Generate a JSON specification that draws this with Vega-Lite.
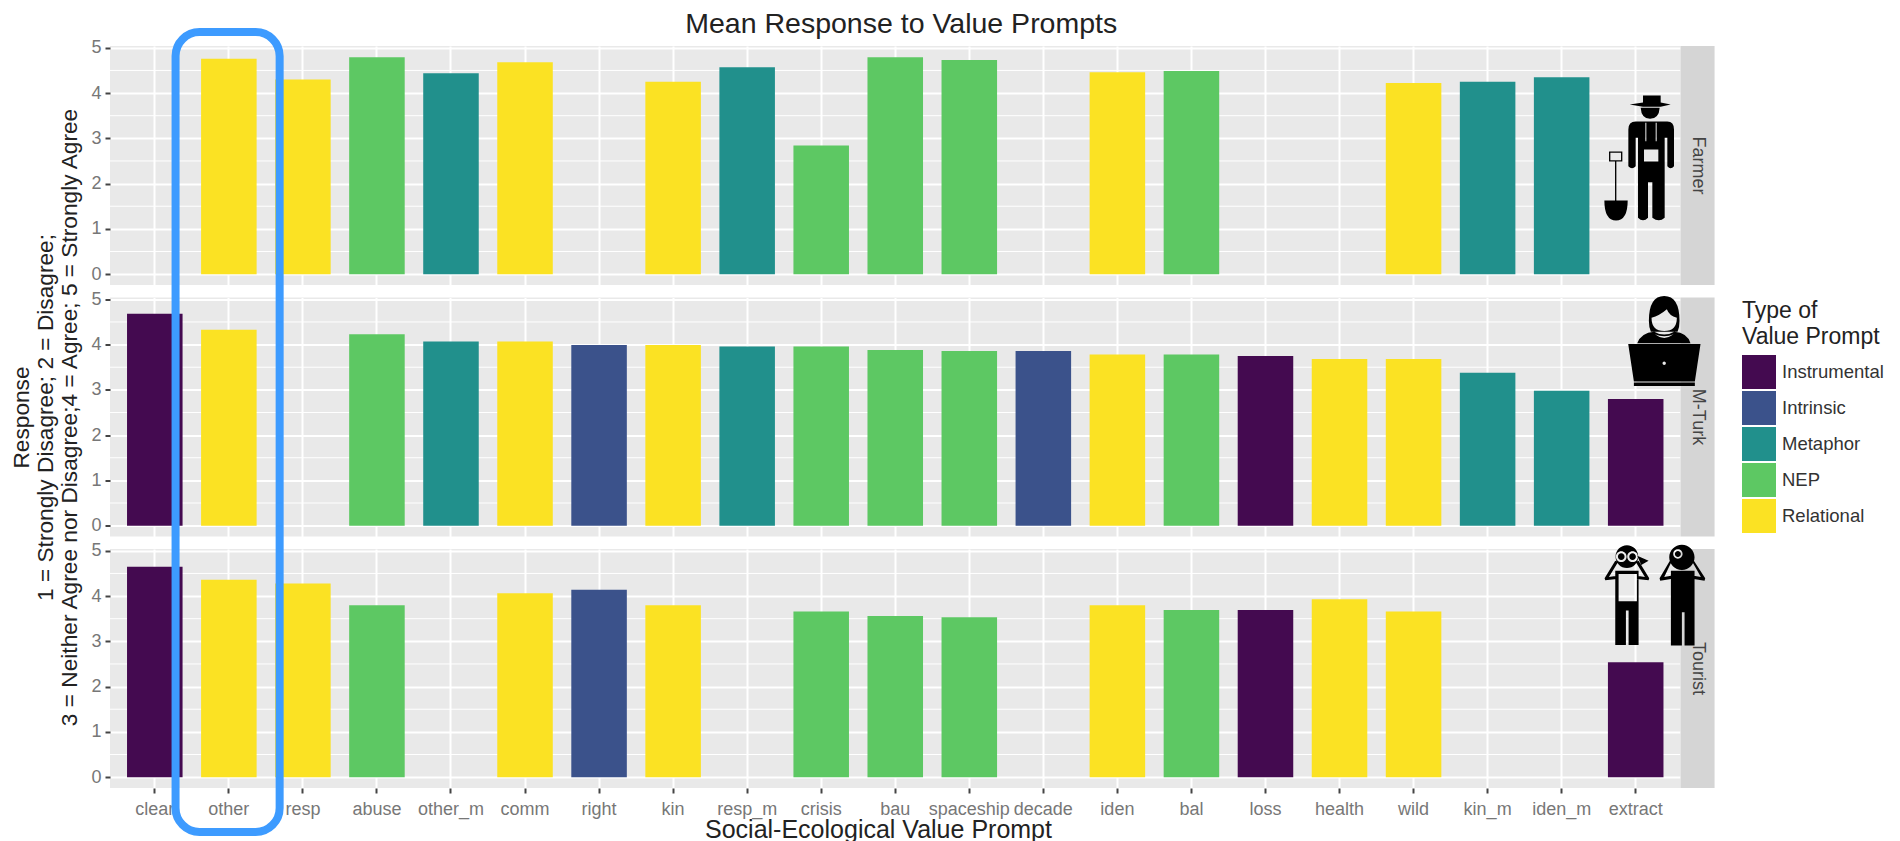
{
"$schema":"https://vega.github.io/schema/vega-lite/v6.json",
"padding":{"left":10,"top":10,"right":10,"bottom":4},
"bounds":"flush",
"spacing":12.5,
"background":"white",
"config":{"font":"Liberation Sans","axis":{"labelFont":"Liberation Sans","titleFont":"Liberation Sans","titleFontWeight":"normal"},"legend":{"labelFont":"Liberation Sans","titleFont":"Liberation Sans","titleFontWeight":"normal"}},
"datasets":{
"prompts":[
{"group":"Farmer","prompt":"other","mean":4.76,"type":"Relational"},
{"group":"Farmer","prompt":"resp","mean":4.3,"type":"Relational"},
{"group":"Farmer","prompt":"abuse","mean":4.79,"type":"NEP"},
{"group":"Farmer","prompt":"other_m","mean":4.44,"type":"Metaphor"},
{"group":"Farmer","prompt":"comm","mean":4.68,"type":"Relational"},
{"group":"Farmer","prompt":"kin","mean":4.25,"type":"Relational"},
{"group":"Farmer","prompt":"resp_m","mean":4.57,"type":"Metaphor"},
{"group":"Farmer","prompt":"crisis","mean":2.84,"type":"NEP"},
{"group":"Farmer","prompt":"bau","mean":4.79,"type":"NEP"},
{"group":"Farmer","prompt":"spaceship","mean":4.73,"type":"NEP"},
{"group":"Farmer","prompt":"iden","mean":4.46,"type":"Relational"},
{"group":"Farmer","prompt":"bal","mean":4.49,"type":"NEP"},
{"group":"Farmer","prompt":"wild","mean":4.22,"type":"Relational"},
{"group":"Farmer","prompt":"kin_m","mean":4.25,"type":"Metaphor"},
{"group":"Farmer","prompt":"iden_m","mean":4.35,"type":"Metaphor"},
{"group":"M-Turk","prompt":"clear","mean":4.68,"type":"Instrumental"},
{"group":"M-Turk","prompt":"other","mean":4.33,"type":"Relational"},
{"group":"M-Turk","prompt":"abuse","mean":4.23,"type":"NEP"},
{"group":"M-Turk","prompt":"other_m","mean":4.07,"type":"Metaphor"},
{"group":"M-Turk","prompt":"comm","mean":4.07,"type":"Relational"},
{"group":"M-Turk","prompt":"right","mean":3.99,"type":"Intrinsic"},
{"group":"M-Turk","prompt":"kin","mean":3.99,"type":"Relational"},
{"group":"M-Turk","prompt":"resp_m","mean":3.96,"type":"Metaphor"},
{"group":"M-Turk","prompt":"crisis","mean":3.96,"type":"NEP"},
{"group":"M-Turk","prompt":"bau","mean":3.88,"type":"NEP"},
{"group":"M-Turk","prompt":"spaceship","mean":3.86,"type":"NEP"},
{"group":"M-Turk","prompt":"decade","mean":3.86,"type":"Intrinsic"},
{"group":"M-Turk","prompt":"iden","mean":3.78,"type":"Relational"},
{"group":"M-Turk","prompt":"bal","mean":3.78,"type":"NEP"},
{"group":"M-Turk","prompt":"loss","mean":3.75,"type":"Instrumental"},
{"group":"M-Turk","prompt":"health","mean":3.68,"type":"Relational"},
{"group":"M-Turk","prompt":"wild","mean":3.68,"type":"Relational"},
{"group":"M-Turk","prompt":"kin_m","mean":3.38,"type":"Metaphor"},
{"group":"M-Turk","prompt":"iden_m","mean":2.98,"type":"Metaphor"},
{"group":"M-Turk","prompt":"extract","mean":2.8,"type":"Instrumental"},
{"group":"Tourist","prompt":"clear","mean":4.65,"type":"Instrumental"},
{"group":"Tourist","prompt":"other","mean":4.36,"type":"Relational"},
{"group":"Tourist","prompt":"resp","mean":4.28,"type":"Relational"},
{"group":"Tourist","prompt":"abuse","mean":3.8,"type":"NEP"},
{"group":"Tourist","prompt":"comm","mean":4.06,"type":"Relational"},
{"group":"Tourist","prompt":"right","mean":4.14,"type":"Intrinsic"},
{"group":"Tourist","prompt":"kin","mean":3.8,"type":"Relational"},
{"group":"Tourist","prompt":"crisis","mean":3.66,"type":"NEP"},
{"group":"Tourist","prompt":"bau","mean":3.56,"type":"NEP"},
{"group":"Tourist","prompt":"spaceship","mean":3.53,"type":"NEP"},
{"group":"Tourist","prompt":"iden","mean":3.8,"type":"Relational"},
{"group":"Tourist","prompt":"bal","mean":3.69,"type":"NEP"},
{"group":"Tourist","prompt":"loss","mean":3.69,"type":"Instrumental"},
{"group":"Tourist","prompt":"health","mean":3.93,"type":"Relational"},
{"group":"Tourist","prompt":"wild","mean":3.66,"type":"Relational"},
{"group":"Tourist","prompt":"extract","mean":2.54,"type":"Instrumental"}
],
"minorGrid":[{"v":0.5},{"v":1.5},{"v":2.5},{"v":3.5},{"v":4.5}]
},
"vconcat":[
{"width":1570.5,"height":239,"view":{"fill":"#E9E9E9","stroke":null},
"title":{"text":"Mean Response to Value Prompts","fontSize":28.5,"fontWeight":"normal","color":"#222222","anchor":"middle","dx":6,"offset":0},
"resolve":{"scale":{"x":"independent"},"axis":{"x":"independent"}},
"layer":[
{"data":{"name":"minorGrid"},"mark":{"type":"rule","color":"white","strokeWidth":1},"encoding":{"y":{"field":"v","type":"quantitative","scale":{"domain":[-0.24,5.04],"nice":false,"zero":false},"axis":{"title":null,"values":[0,1,2,3,4,5],"domain":false,"grid":true,"gridColor":"white","gridWidth":2,"tickColor":"#444444","tickSize":5,"tickWidth":2,"labelFontSize":18,"labelColor":"#777777","labelPadding":4}}}},
{"data":{"name":"prompts"},"transform":[{"filter":"datum.group === 'Farmer'"}],"mark":{"type":"bar"},
"encoding":{
"x":{"field":"prompt","type":"nominal","sort":null,"scale":{"domain":["clear","other","resp","abuse","other_m","comm","right","kin","resp_m","crisis","bau","spaceship","decade","iden","bal","loss","health","wild","kin_m","iden_m","extract"],"paddingInner":0.25,"paddingOuter":0.23},"axis":{"title":null,"labels":false,"ticks":false,"domain":false,"grid":true,"gridColor":"white","gridWidth":2}},
"y":{"field":"mean","type":"quantitative","scale":{"domain":[-0.24,5.04],"nice":false,"zero":false},"axis":{"title":null,"values":[0,1,2,3,4,5],"domain":false,"grid":true,"gridColor":"white","gridWidth":2,"tickColor":"#444444","tickSize":5,"tickWidth":2,"labelFontSize":18,"labelColor":"#777777","labelPadding":4}},
"color":{"field":"type","type":"nominal","scale":{"domain":["Instrumental","Intrinsic","Metaphor","NEP","Relational"],"range":["#440A50","#3B528B","#21908C","#5DC863","#FBE223"]},"legend":{"orient":"none","legendX":1632,"legendY":254,"title":["Type of","Value Prompt"],"titleFontSize":23,"titleColor":"#222222","titleLineHeight":26,"titlePadding":6,"symbolType":"square","symbolSize":1156,"symbolStrokeWidth":0,"symbolOpacity":1,"labelFontSize":18.5,"labelColor":"#333333","labelOffset":6,"rowPadding":2}}
}},
{"data":{"values":[{"left":20.6,"right":21.06,"lo":-0.24,"hi":5.04}]},"mark":{"type":"rect","color":"#D5D5D5","clip":false},"encoding":{"x":{"field":"left","type":"quantitative","axis":null,"scale":{"domain":[-0.6,20.6],"nice":false,"zero":false}},"x2":{"field":"right"},"y":{"field":"lo","type":"quantitative"},"y2":{"field":"hi"}}},
{"data":{"values":[{"pos":20.83,"mid":2.4,"group":"Farmer"}]},"mark":{"type":"text","angle":90,"fontSize":18,"color":"#444444","align":"center","baseline":"middle"},"encoding":{"x":{"field":"pos","type":"quantitative","axis":null,"scale":{"domain":[-0.6,20.6],"nice":false,"zero":false}},"y":{"field":"mid","type":"quantitative"},"text":{"field":"group"}}},
{"data":{"values":[{"pos":20.04,"val":2.57}]},"mark":{"type":"point","filled":true,"color":"black","opacity":1,"size":0.444,"shape":"M-28,-160 L12,-166 L12,-187 L65,-187 L65,-166 L95,-160 L65,-153 L12,-153 Z M5,-150 L62,-150 Q60,-117 33,-117 Q7,-117 5,-150 Z M-10,-109 L85,-109 Q105,-109 105,-85 L105,25 Q95,38 85,25 L85,-60 L77,-60 L77,180 Q60,195 40,180 L40,73 L27,73 L27,180 Q12,195 -3,180 L-3,-60 L-10,-60 L-10,25 Q-21,38 -32,25 L-32,-85 Q-32,-109 -10,-109 Z M15,-25 L15,11 L58,11 L58,-25 Z M19,-105 L19,-50 L22,-50 L22,-105 Z M50,-105 L50,-50 L53,-50 L53,-105 Z M-90,-19 L-50,-19 L-50,11 L-90,11 Z M-86,-15 L-86,7 L-54,7 L-54,-15 Z M-72,11 L-68,11 L-68,130 L-72,130 Z M-104,128 L-34,128 Q-34,188 -69,188 Q-104,188 -104,128 Z"},"encoding":{"x":{"field":"pos","type":"quantitative","axis":null,"scale":{"domain":[-0.6,20.6],"nice":false,"zero":false}},"y":{"field":"val","type":"quantitative"}}}
]},
{"width":1570.5,"height":239,"view":{"fill":"#E9E9E9","stroke":null},
"resolve":{"scale":{"x":"independent"},"axis":{"x":"independent"}},
"layer":[
{"data":{"name":"minorGrid"},"mark":{"type":"rule","color":"white","strokeWidth":1},"encoding":{"y":{"field":"v","type":"quantitative","scale":{"domain":[-0.24,5.04],"nice":false,"zero":false},"axis":{"title":["Response","1 = Strongly Disagree; 2 = Disagree;","3 = Neither Agree nor Disagree;4 = Agree; 5 = Strongly Agree"],"titleFontSize":22.7,"titleLineHeight":24,"titleColor":"#222222","titlePadding":9,"values":[0,1,2,3,4,5],"domain":false,"grid":true,"gridColor":"white","gridWidth":2,"tickColor":"#444444","tickSize":5,"tickWidth":2,"labelFontSize":18,"labelColor":"#777777","labelPadding":4}}}},
{"data":{"name":"prompts"},"transform":[{"filter":"datum.group === 'M-Turk'"}],"mark":{"type":"bar"},
"encoding":{
"x":{"field":"prompt","type":"nominal","sort":null,"scale":{"domain":["clear","other","resp","abuse","other_m","comm","right","kin","resp_m","crisis","bau","spaceship","decade","iden","bal","loss","health","wild","kin_m","iden_m","extract"],"paddingInner":0.25,"paddingOuter":0.23},"axis":{"title":null,"labels":false,"ticks":false,"domain":false,"grid":true,"gridColor":"white","gridWidth":2}},
"y":{"field":"mean","type":"quantitative","scale":{"domain":[-0.24,5.04],"nice":false,"zero":false},"axis":{"title":["Response","1 = Strongly Disagree; 2 = Disagree;","3 = Neither Agree nor Disagree;4 = Agree; 5 = Strongly Agree"],"titleFontSize":22.7,"titleLineHeight":24,"titleColor":"#222222","titlePadding":9,"values":[0,1,2,3,4,5],"domain":false,"grid":true,"gridColor":"white","gridWidth":2,"tickColor":"#444444","tickSize":5,"tickWidth":2,"labelFontSize":18,"labelColor":"#777777","labelPadding":4}},
"color":{"field":"type","type":"nominal","scale":{"domain":["Instrumental","Intrinsic","Metaphor","NEP","Relational"],"range":["#440A50","#3B528B","#21908C","#5DC863","#FBE223"]},"legend":{"orient":"none","legendX":1632,"legendY":254,"title":["Type of","Value Prompt"],"titleFontSize":23,"titleColor":"#222222","titleLineHeight":26,"titlePadding":6,"symbolType":"square","symbolSize":1156,"symbolStrokeWidth":0,"symbolOpacity":1,"labelFontSize":18.5,"labelColor":"#333333","labelOffset":6,"rowPadding":2}}
}},
{"data":{"values":[{"left":20.6,"right":21.06,"lo":-0.24,"hi":5.04}]},"mark":{"type":"rect","color":"#D5D5D5","clip":false},"encoding":{"x":{"field":"left","type":"quantitative","axis":null,"scale":{"domain":[-0.6,20.6],"nice":false,"zero":false}},"x2":{"field":"right"},"y":{"field":"lo","type":"quantitative"},"y2":{"field":"hi"}}},
{"data":{"values":[{"pos":20.83,"mid":2.4,"group":"M-Turk"}]},"mark":{"type":"text","angle":90,"fontSize":18,"color":"#444444","align":"center","baseline":"middle"},"encoding":{"x":{"field":"pos","type":"quantitative","axis":null,"scale":{"domain":[-0.6,20.6],"nice":false,"zero":false}},"y":{"field":"mid","type":"quantitative"},"text":{"field":"group"}}},
{"data":{"values":[{"pos":20.38,"val":4.08}]},"mark":{"type":"point","filled":true,"color":"black","opacity":1,"size":0.444,"shape":"M-46,-60 Q-46,-135 0,-135 Q46,-135 46,-60 Q46,-40 40,-28 L-40,-28 Q-46,-40 -46,-60 Z M-38,-70 Q-38,-30 0,-30 Q38,-30 38,-70 Q15,-75 8,-95 Q-15,-75 -38,-70 Z M-81,7 Q-70,-25 -30,-28 Q0,-10 30,-28 Q70,-25 79,7 Z M-28,-20 Q0,2 28,-20 Q0,-8 -28,-20 Z M-108,9 L109,9 L92,122 L-91,122 Z M-5,67 a5,5 0 1,0 10,0 a5,5 0 1,0 -10,0 Z M-91,125 L92,125 L92,135 L-91,135 Z"},"encoding":{"x":{"field":"pos","type":"quantitative","axis":null,"scale":{"domain":[-0.6,20.6],"nice":false,"zero":false}},"y":{"field":"val","type":"quantitative"}}}
]},
{"width":1570.5,"height":239,"view":{"fill":"#E9E9E9","stroke":null},
"resolve":{"scale":{"x":"independent"},"axis":{"x":"independent"}},
"layer":[
{"data":{"name":"minorGrid"},"mark":{"type":"rule","color":"white","strokeWidth":1},"encoding":{"y":{"field":"v","type":"quantitative","scale":{"domain":[-0.24,5.04],"nice":false,"zero":false},"axis":{"title":null,"values":[0,1,2,3,4,5],"domain":false,"grid":true,"gridColor":"white","gridWidth":2,"tickColor":"#444444","tickSize":5,"tickWidth":2,"labelFontSize":18,"labelColor":"#777777","labelPadding":4}}}},
{"data":{"name":"prompts"},"transform":[{"filter":"datum.group === 'Tourist'"}],"mark":{"type":"bar"},
"encoding":{
"x":{"field":"prompt","type":"nominal","sort":null,"scale":{"domain":["clear","other","resp","abuse","other_m","comm","right","kin","resp_m","crisis","bau","spaceship","decade","iden","bal","loss","health","wild","kin_m","iden_m","extract"],"paddingInner":0.25,"paddingOuter":0.23},"axis":{"title":"Social-Ecological Value Prompt","titleFontSize":25,"titleColor":"#222222","titleX":768,"titleY":29,"labelAngle":0,"labelFontSize":18,"labelColor":"#777777","labelPadding":7,"tickColor":"#444444","tickSize":5,"tickWidth":2,"domain":false,"grid":true,"gridColor":"white","gridWidth":2}},
"y":{"field":"mean","type":"quantitative","scale":{"domain":[-0.24,5.04],"nice":false,"zero":false},"axis":{"title":null,"values":[0,1,2,3,4,5],"domain":false,"grid":true,"gridColor":"white","gridWidth":2,"tickColor":"#444444","tickSize":5,"tickWidth":2,"labelFontSize":18,"labelColor":"#777777","labelPadding":4}},
"color":{"field":"type","type":"nominal","scale":{"domain":["Instrumental","Intrinsic","Metaphor","NEP","Relational"],"range":["#440A50","#3B528B","#21908C","#5DC863","#FBE223"]},"legend":{"orient":"none","legendX":1632,"legendY":254,"title":["Type of","Value Prompt"],"titleFontSize":23,"titleColor":"#222222","titleLineHeight":26,"titlePadding":6,"symbolType":"square","symbolSize":1156,"symbolStrokeWidth":0,"symbolOpacity":1,"labelFontSize":18.5,"labelColor":"#333333","labelOffset":6,"rowPadding":2}}
}},
{"data":{"values":[{"left":20.6,"right":21.06,"lo":-0.24,"hi":5.04}]},"mark":{"type":"rect","color":"#D5D5D5","clip":false},"encoding":{"x":{"field":"left","type":"quantitative","axis":null,"scale":{"domain":[-0.6,20.6],"nice":false,"zero":false}},"x2":{"field":"right"},"y":{"field":"lo","type":"quantitative"},"y2":{"field":"hi"}}},
{"data":{"values":[{"pos":20.83,"mid":2.4,"group":"Tourist"}]},"mark":{"type":"text","angle":90,"fontSize":18,"color":"#444444","align":"center","baseline":"middle"},"encoding":{"x":{"field":"pos","type":"quantitative","axis":null,"scale":{"domain":[-0.6,20.6],"nice":false,"zero":false}},"y":{"field":"mid","type":"quantitative"},"text":{"field":"group"}}},
{"data":{"values":[{"pos":20.25,"val":4.01}]},"mark":{"type":"point","filled":true,"color":"black","opacity":1,"size":0.444,"shape":"M-117,-117 a34,34 0 1,1 68,0 a34,34 0 1,1 -68,0 Z M-116,-117 a16,16 0 1,0 32,0 a16,16 0 1,0 -32,0 Z M-110,-117 a10,10 0 1,1 20,0 a10,10 0 1,1 -20,0 Z M-82,-117 a16,16 0 1,0 32,0 a16,16 0 1,0 -32,0 Z M-76,-117 a10,10 0 1,1 20,0 a10,10 0 1,1 -20,0 Z M-52,-120 L-18,-105 L-40,-92 Z M-110,-100 L-137,-56 L-113,-60 L-113,-50 L-148,-46 L-150,-52 L-118,-105 Z M-48,-105 L-16,-52 L-18,-46 L-53,-50 L-53,-60 L-29,-56 L-56,-100 Z M-118,-75 L-48,-75 L-48,148 L-78,148 L-78,45 L-86,45 L-86,148 L-118,148 Z M-108,-65 L-108,17 L-53,17 L-53,-65 Z M44,-115 a38,38 0 1,1 76,0 a38,38 0 1,1 -76,0 Z M56,-125 a14,14 0 1,0 28,0 a14,14 0 1,0 -28,0 Z M61,-125 a9,9 0 1,1 18,0 a9,9 0 1,1 -18,0 Z M50,-100 L29,-56 L49,-60 L49,-50 L17,-45 L15,-52 L46,-105 Z M118,-105 L152,-52 L150,-45 L118,-50 L118,-60 L139,-56 L114,-100 Z M49,-75 L120,-75 L120,150 L90,150 L90,50 L82,50 L82,150 L49,150 Z"},"encoding":{"x":{"field":"pos","type":"quantitative","axis":null,"scale":{"domain":[-0.6,20.6],"nice":false,"zero":false}},"y":{"field":"val","type":"quantitative"}}},
{"data":{"values":[{"left":0.285,"right":1.69,"top":16.46,"bottom":-1.21}]},"mark":{"type":"rect","filled":false,"stroke":"#3D9BFF","strokeWidth":8,"cornerRadius":24,"clip":false},"encoding":{"x":{"field":"left","type":"quantitative","axis":null,"scale":{"domain":[-0.6,20.6],"nice":false,"zero":false}},"x2":{"field":"right"},"y":{"field":"top","type":"quantitative"},"y2":{"field":"bottom"}}}
]}
]
}
